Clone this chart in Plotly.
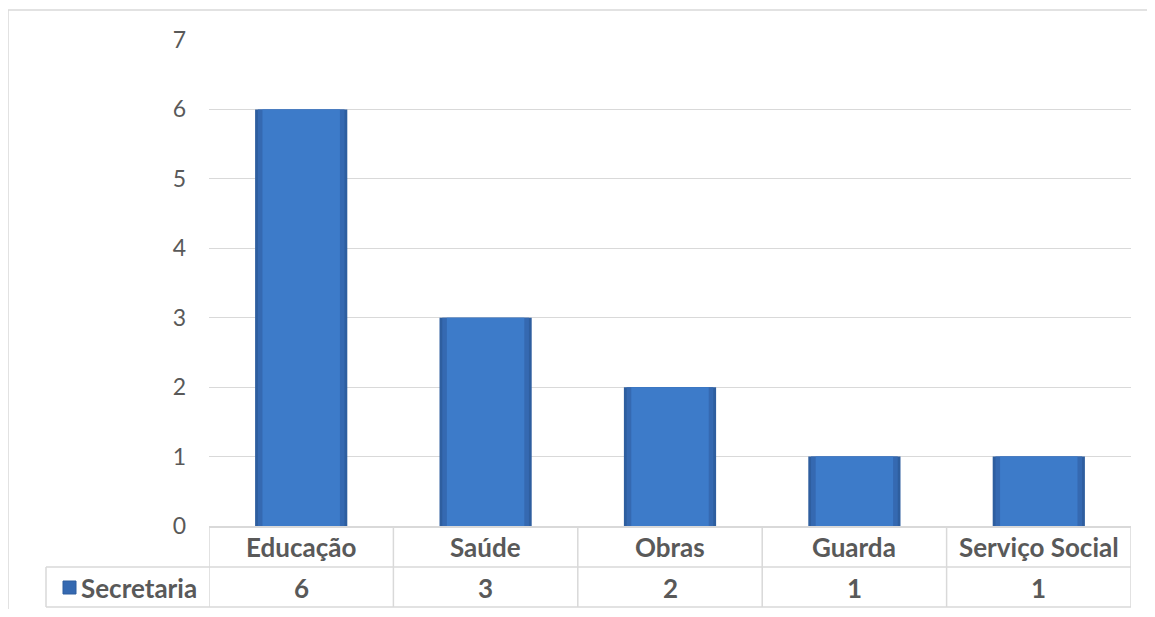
import plotly.graph_objects as go

categories = ["Educação", "Saúde", "Obras", "Guarda", "Serviço Social"]
values = [6, 3, 2, 1, 1]
series_name = "Secretaria"
y_ticks = [0, 1, 2, 3, 4, 5, 6, 7]

OFF = 8  # default page body margin
W, H = 1155 - 2 * OFF, 617 - 2 * OFF
PLOT_L, PLOT_R, PLOT_T, PLOT_B = 209, 1131, 40, 526  # page pixels
L, T = PLOT_L - OFF, PLOT_T - OFF
R, B = W - (PLOT_R - OFF), H - (PLOT_B - OFF)
PW, PH = PLOT_R - PLOT_L, PLOT_B - PLOT_T

def px_x(x):
    return (x - PLOT_L) / PW

def px_y(y):
    return (PLOT_B - y) / PH

FONT = "Lato"
TXT = "#595959"
GRID = "#D9D9D9"

idx = list(range(len(categories)))

fig = go.Figure()
fig.add_trace(go.Bar(x=idx, y=values, width=0.5, marker=dict(color="#2E5E9F", line=dict(width=0)),
                     hoverinfo="skip", showlegend=False))
fig.add_trace(go.Bar(x=idx, y=values, width=0.47, marker=dict(color="#3569B1", line=dict(width=0)),
                     hoverinfo="skip", showlegend=False))
fig.add_trace(go.Bar(x=idx, y=values, width=0.42, marker=dict(color="#3D7BC9", line=dict(width=0)),
                     name=series_name, showlegend=False))

shapes = []
# outer chart border (top and left)
shapes.append(dict(type="line", xref="paper", yref="paper", x0=px_x(8), x1=px_x(1170),
                   y0=px_y(10), y1=px_y(10), line=dict(color=GRID, width=1.5)))
shapes.append(dict(type="line", xref="paper", yref="paper", x0=px_x(8), x1=px_x(8),
                   y0=px_y(10), y1=px_y(640), line=dict(color=GRID, width=1.5)))
# data table horizontal lines
y_hdr_bot = px_y(567)
y_val_bot = px_y(607)
shapes.append(dict(type="line", xref="paper", yref="paper", x0=px_x(46), x1=1,
                   y0=y_hdr_bot, y1=y_hdr_bot, line=dict(color=GRID, width=1.5)))
shapes.append(dict(type="line", xref="paper", yref="paper", x0=px_x(46), x1=1,
                   y0=y_val_bot, y1=y_val_bot, line=dict(color=GRID, width=1.5)))
shapes.append(dict(type="line", xref="paper", yref="paper", x0=px_x(46), x1=px_x(46),
                   y0=y_hdr_bot, y1=y_val_bot, line=dict(color=GRID, width=1.5)))
# vertical separators at category boundaries
for k in range(len(categories) + 1):
    xb = k - 0.5
    shapes.append(dict(type="line", xref="x", yref="paper", x0=xb, x1=xb,
                       y0=0, y1=y_val_bot, line=dict(color=GRID, width=1.5)))
# legend key
shapes.append(dict(type="rect", xref="paper", yref="paper", x0=px_x(63), x1=px_x(76),
                   y0=px_y(581), y1=px_y(594), fillcolor="#3569B1",
                   line=dict(color="#2E5E9F", width=1)))

annotations = []
for i, (c, v) in enumerate(zip(categories, values)):
    annotations.append(dict(x=i, y=px_y(547), xref="x", yref="paper", text=f"<b>{c}</b>",
                            showarrow=False, font=dict(family=FONT, size=26, color=TXT),
                            xanchor="center", yanchor="middle"))
    annotations.append(dict(x=i, y=px_y(588), xref="x", yref="paper", text=f"<b>{v}</b>",
                            showarrow=False, font=dict(family=FONT, size=26, color=TXT),
                            xanchor="center", yanchor="middle"))
annotations.append(dict(x=px_x(79), y=px_y(588), xref="paper", yref="paper",
                        text=f"<b>{series_name}</b>", showarrow=False,
                        font=dict(family=FONT, size=26, color=TXT), xanchor="left", yanchor="middle"))

fig.update_layout(
    width=W, height=H,
    margin=dict(l=L, r=R, t=T, b=B, autoexpand=False),
    paper_bgcolor="white", plot_bgcolor="white",
    barmode="overlay",
    showlegend=False,
    xaxis=dict(range=[-0.5, len(categories) - 0.5], showticklabels=False, showgrid=False,
               zeroline=False, showline=True, linecolor=GRID, linewidth=1.5, ticks=""),
    yaxis=dict(range=[0, 7], tickvals=y_ticks, showgrid=True, gridcolor=GRID, gridwidth=1.2,
               zeroline=False, showline=False, ticks="", ticklabelstandoff=22,
               tickfont=dict(family=FONT, size=23, color=TXT)),
    shapes=shapes, annotations=annotations,
)

fig.write_html("out.html")
